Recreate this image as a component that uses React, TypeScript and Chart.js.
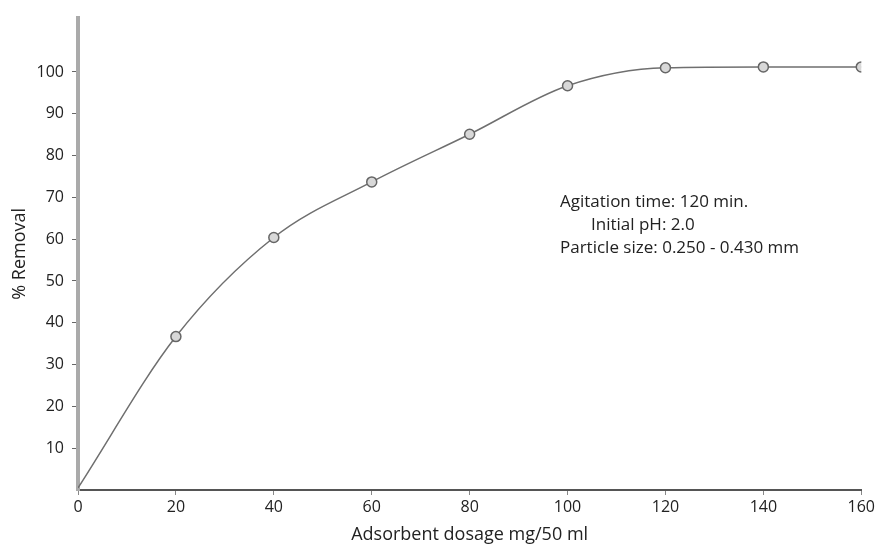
import React, { useEffect, useRef } from "react";
import { Chart, registerables } from "chart.js";

Chart.register(...registerables);

const dosage = [0, 20, 40, 60, 80, 100, 120, 140, 160];
const removal = [0.5, 36.7, 60.4, 73.7, 85.1, 96.7, 101.0, 101.2, 101.2];
const xTicks = [0, 20, 40, 60, 80, 100, 120, 140, 160];
const yTicks = [10, 20, 30, 40, 50, 60, 70, 80, 90, 100];
const notes = [
  "Agitation time: 120 min.",
  "Initial pH: 2.0",
  "Particle size: 0.250 - 0.430 mm",
];

const FONT = "'Open Sans', sans-serif";

const notesPlugin = {
  id: "notes",
  afterDraw(chart: any) {
    const { ctx, chartArea } = chart;
    ctx.save();
    ctx.font = `17px ${FONT}`;
    ctx.fillStyle = "#222";
    ctx.textBaseline = "middle";
    ctx.textAlign = "left";
    const x0 = chartArea.left + 482;
    const y0 = chartArea.top + 185;
    ctx.fillText(notes[0], x0, y0);
    ctx.fillText(notes[1], x0 + 31, y0 + 23);
    ctx.fillText(notes[2], x0, y0 + 46);
    ctx.restore();
  },
};

export default function App() {
  const ref = useRef<HTMLCanvasElement>(null);
  useEffect(() => {
    document.body.style.margin = "0";
    const chart = new Chart(ref.current!, {
      type: "line",
      data: {
        datasets: [
          {
            data: dosage.map((x, i) => ({ x, y: removal[i] })),
            borderColor: "#6f6f6f",
            borderWidth: 1.5,
            cubicInterpolationMode: "monotone",
            pointRadius: dosage.map((x) => (x === 0 ? 0 : 5)),
            pointBorderColor: "#666",
            pointBackgroundColor: "#d8d8d8",
            pointBorderWidth: 1.5,
          },
        ],
      },
      options: {
        animation: false,
        responsive: false,
        plugins: { legend: { display: false }, tooltip: { enabled: false } },
        layout: { padding: { top: 12, right: 16, left: 0, bottom: 0 } },
        scales: {
          x: {
            type: "linear",
            min: 0,
            max: 160,
            afterBuildTicks: (s: any) => {
              s.ticks = xTicks.map((v) => ({ value: v }));
            },
            afterFit: (s: any) => {
              s.height = 56;
            },
            border: { color: "#555", width: 2 },
            grid: { drawOnChartArea: false, tickLength: 5, color: "#888" },
            ticks: {
              color: "#222",
              font: { family: FONT, size: 16 },
              padding: 3,
              maxRotation: 0,
            },
            title: {
              display: true,
              text: "Adsorbent dosage mg/50 ml",
              color: "#222",
              font: { family: FONT, size: 18 },
              padding: { top: 0, bottom: 0 },
            },
          },
          y: {
            type: "linear",
            min: 0,
            max: 113,
            afterBuildTicks: (s: any) => {
              s.ticks = yTicks.map((v) => ({ value: v }));
            },
            afterFit: (s: any) => {
              s.width = 78;
            },
            border: { color: "#aaa", width: 4 },
            grid: { drawOnChartArea: false, tickLength: 6, color: "#666" },
            ticks: {
              color: "#222",
              font: { family: FONT, size: 16 },
              padding: 8,
            },
            title: {
              display: true,
              text: "% Removal",
              color: "#222",
              font: { family: FONT, size: 18 },
              padding: { top: 9, bottom: 0 },
            },
          },
        },
      },
      plugins: [notesPlugin],
    });
    return () => chart.destroy();
  }, []);
  return (
    <div style={{ width: 878, height: 546, background: "#fff" }}>
      <canvas ref={ref} width={878} height={546} />
    </div>
  );
}
